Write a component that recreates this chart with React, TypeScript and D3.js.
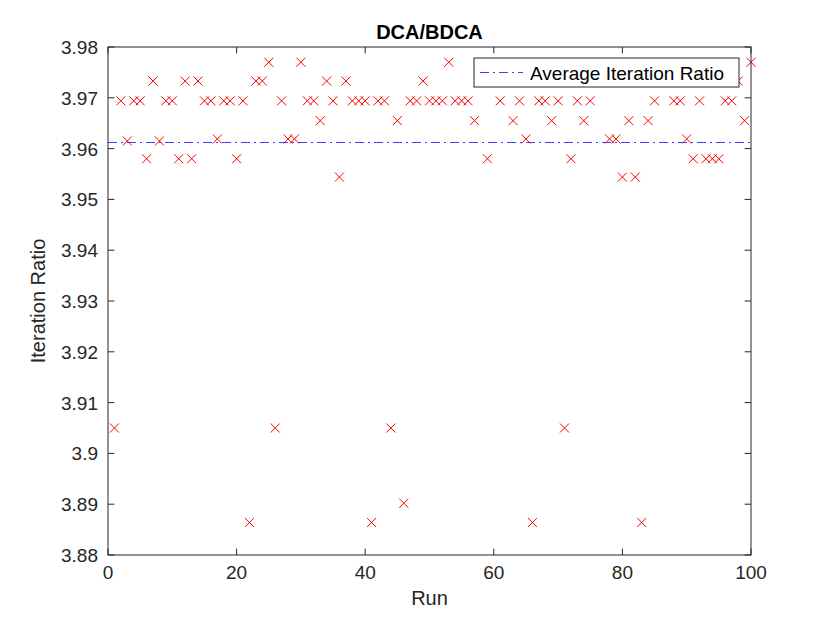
import * as d3 from "d3";
import React from "react";

// Iteration ratio per run
const runs: number[] = d3.range(1, 101);
const ratios: number[] = [
  3.905, 3.9694, 3.9615, 3.9694, 3.9694, 3.958, 3.9733, 3.9615, 3.9694, 3.9694,
  3.958, 3.9733, 3.958, 3.9733, 3.9694, 3.9694, 3.9619, 3.9694, 3.9694, 3.958,
  3.9694, 3.8864, 3.9733, 3.9733, 3.977, 3.905, 3.9694, 3.9619, 3.9619, 3.977,
  3.9694, 3.9694, 3.9655, 3.9733, 3.9694, 3.9544, 3.9733, 3.9694, 3.9694, 3.9694,
  3.8864, 3.9694, 3.9694, 3.905, 3.9655, 3.8902, 3.9694, 3.9694, 3.9733, 3.9694,
  3.9694, 3.9694, 3.977, 3.9694, 3.9694, 3.9694, 3.9655, 3.9733, 3.958, 3.977,
  3.9694, 3.9733, 3.9655, 3.9694, 3.9619, 3.8864, 3.9694, 3.9694, 3.9655, 3.9694,
  3.905, 3.958, 3.9694, 3.9655, 3.9694, 3.9733, 3.9733, 3.9619, 3.9619, 3.9544,
  3.9655, 3.9544, 3.8864, 3.9655, 3.9694, 3.977, 3.9733, 3.9694, 3.9694, 3.9619,
  3.958, 3.9694, 3.958, 3.958, 3.958, 3.9694, 3.9694, 3.9733, 3.9655, 3.977,
];
const avgRatio = 3.9612;

const xTicks = [0, 20, 40, 60, 80, 100];
const yTicks = [3.88, 3.89, 3.9, 3.91, 3.92, 3.93, 3.94, 3.95, 3.96, 3.97, 3.98];

const width = 830;
const height = 623;
const marginLeft = 108;
const marginRight = 79;
const marginTop = 47;
const marginBottom = 68;

const axisColor = "#262626";
const font = "'Liberation Sans', Arial, sans-serif";

export default function App() {
  const x = d3.scaleLinear().domain([0, 100]).range([marginLeft, width - marginRight]);
  const y = d3.scaleLinear().domain([3.88, 3.98]).range([height - marginBottom, marginTop]);

  const x0 = x.range()[0];
  const x1 = x.range()[1];
  const y0 = y.range()[0];
  const y1 = y.range()[1];
  const tickLen = 6.4;
  const m = 4.5; // half marker size

  const avgLine = d3.line<number>()
    .x((d) => x(d))
    .y(() => y(avgRatio));

  return (
    <svg
      width={width}
      height={height}
      style={{ position: "absolute", left: 0, top: 0, background: "#fff" }}
      fontFamily={font}
    >
      <rect x={0} y={0} width={width} height={height} fill="#fff" />
      <rect x={x0} y={y1} width={x1 - x0} height={y0 - y1} fill="#fff" />

      {/* average line */}
      <path
        d={avgLine([0, 100]) ?? ""}
        fill="none"
        stroke="#0000ff"
        strokeOpacity={0.75}
        strokeWidth={1}
        strokeDasharray="9,4,2,4"
      />

      {/* markers */}
      <g stroke="#ff0000" strokeWidth={1}>
        {ratios.map((v, i) => {
          const cx = x(runs[i]);
          const cy = y(v);
          return (
            <path
              key={i}
              d={`M${cx - m},${cy - m}L${cx + m},${cy + m}M${cx - m},${cy + m}L${cx + m},${cy - m}`}
            />
          );
        })}
      </g>

      {/* box */}
      <rect x={x0} y={y1} width={x1 - x0} height={y0 - y1} fill="none" stroke={axisColor} strokeWidth={1} />

      {/* x ticks */}
      <g stroke={axisColor} strokeWidth={1}>
        {xTicks.map((t) => (
          <g key={t}>
            <line x1={x(t)} x2={x(t)} y1={y0} y2={y0 - tickLen} />
            <line x1={x(t)} x2={x(t)} y1={y1} y2={y1 + tickLen} />
          </g>
        ))}
        {yTicks.map((t) => (
          <g key={t}>
            <line x1={x0} x2={x0 + tickLen} y1={y(t)} y2={y(t)} />
            <line x1={x1} x2={x1 - tickLen} y1={y(t)} y2={y(t)} />
          </g>
        ))}
      </g>
      <g fill={axisColor} fontSize={19}>
        {xTicks.map((t) => (
          <text key={t} x={x(t)} y={y0 + 24} textAnchor="middle">
            {t}
          </text>
        ))}
        {yTicks.map((t) => (
          <text key={t} x={x0 - 10} y={y(t) + 7} textAnchor="end">
            {d3.format("")(+t.toFixed(2))}
          </text>
        ))}
      </g>

      {/* labels */}
      <text x={(x0 + x1) / 2} y={y0 + 50} textAnchor="middle" fontSize={20} fill={axisColor}>
        Run
      </text>
      <text
        transform={`translate(${x0 - 63},${(y0 + y1) / 2}) rotate(-90)`}
        textAnchor="middle"
        fontSize={20}
        fill={axisColor}
      >
        Iteration Ratio
      </text>
      <text x={(x0 + x1) / 2} y={y1 - 8} textAnchor="middle" fontSize={20} fontWeight="bold" fill="#000">
        DCA/BDCA
      </text>

      {/* legend */}
      <g>
        <rect x={474} y={58} width={265} height={29} fill="#fff" stroke={axisColor} strokeWidth={1} />
        <line
          x1={480}
          x2={523}
          y1={72.5}
          y2={72.5}
          stroke="#0000ff"
          strokeOpacity={0.75}
          strokeDasharray="9,4,2,4"
        />
        <text x={530} y={79.5} fontSize={19} fill="#000">
          Average Iteration Ratio
        </text>
      </g>
    </svg>
  );
}
